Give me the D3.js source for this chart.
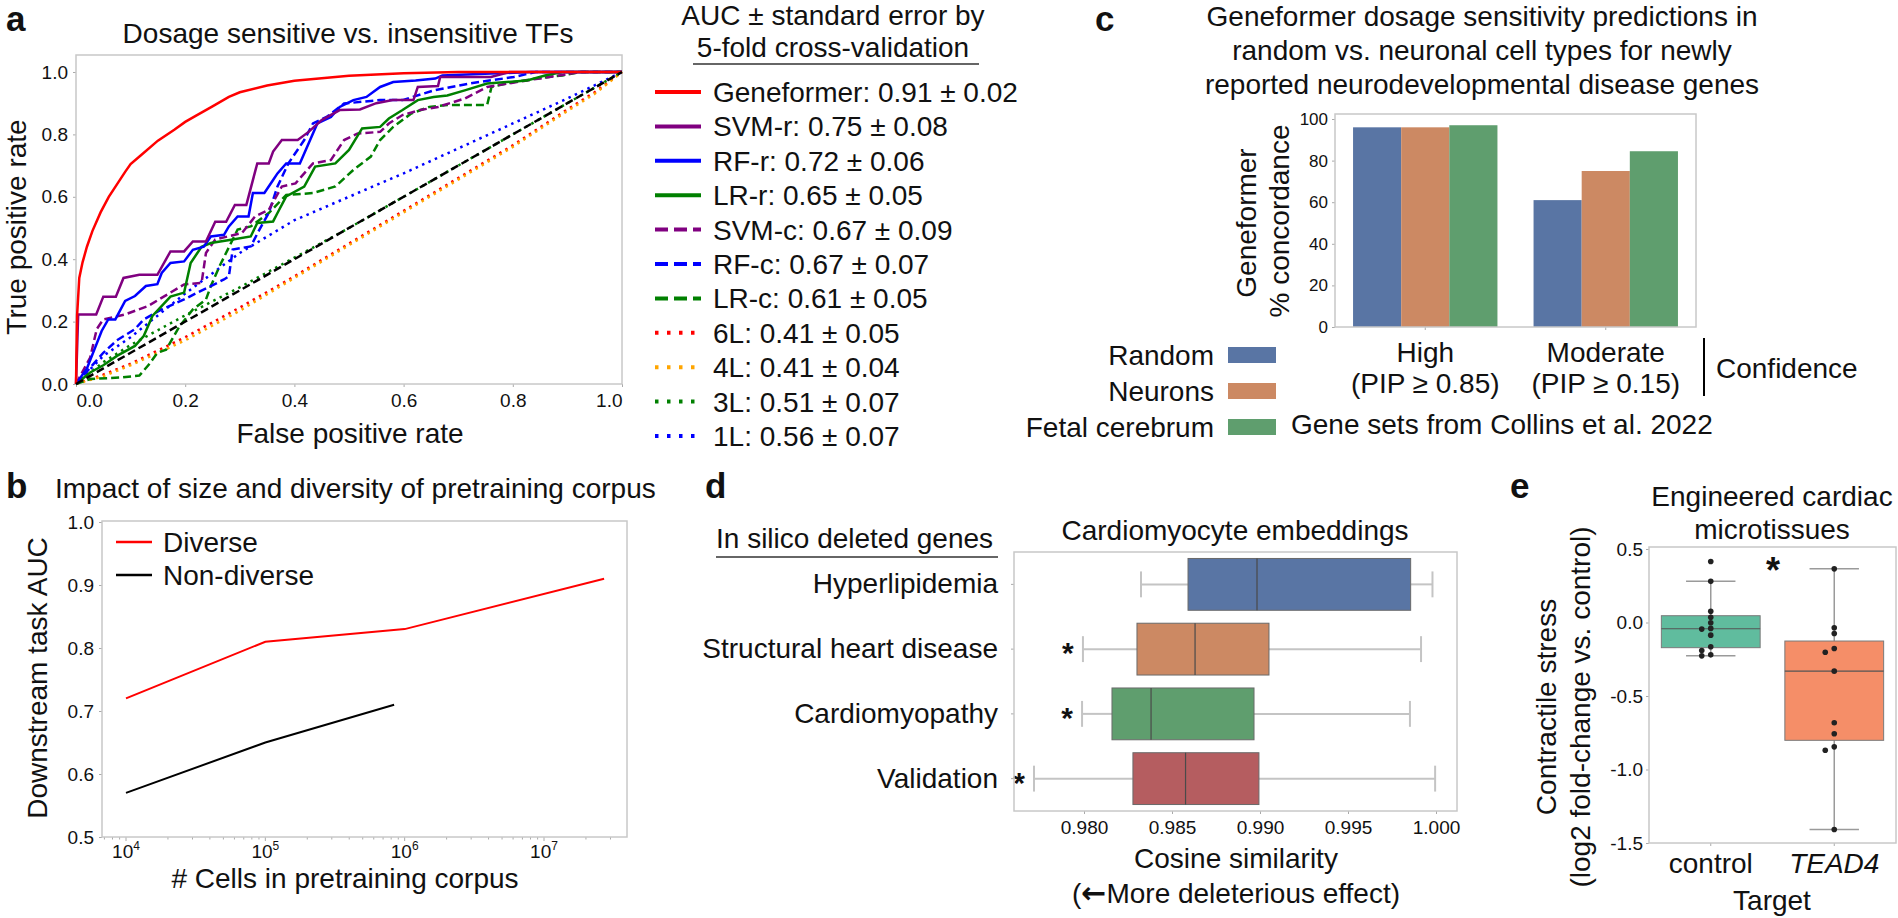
<!DOCTYPE html>
<html><head><meta charset="utf-8">
<script src="https://cdn.jsdelivr.net/npm/d3@7"></script>
<style>
body{margin:0;background:#fff}
svg text{font-family:"Liberation Sans",Arial,Helvetica,sans-serif;fill:#111}
</style>
</head><body>
<svg id="fig" width="1898" height="918"></svg>
<script>
// ---------------- DATA ----------------
// Panel a: ROC curves
const rocNames = ["Geneformer","SVM-r","RF-r","LR-r","SVM-c","RF-c","LR-c","6L","4L","3L","1L"];
const aucMean = [0.91,0.75,0.72,0.65,0.67,0.67,0.61,0.41,0.41,0.51,0.56];
const aucSE   = [0.02,0.08,0.06,0.05,0.09,0.07,0.05,0.05,0.04,0.07,0.07];
const rocGeneformer = [[0,0],[0.002,0.22],[0.006,0.34],[0.012,0.39],[0.02,0.44],[0.03,0.49],[0.045,0.55],[0.06,0.6],[0.075,0.64],[0.09,0.68],[0.1,0.705],[0.12,0.735],[0.15,0.78],[0.18,0.815],[0.2,0.84],[0.22,0.86],[0.25,0.89],[0.28,0.92],[0.3,0.935],[0.35,0.957],[0.4,0.972],[0.5,0.988],[0.6,0.996],[0.7,1],[1,1]];
const rocSVMr = [[0,0],[0.004,0.223],[0.037,0.223],[0.05,0.28],[0.073,0.28],[0.087,0.34],[0.116,0.35],[0.149,0.35],[0.173,0.425],[0.198,0.425],[0.214,0.457],[0.238,0.457],[0.255,0.52],[0.275,0.52],[0.291,0.574],[0.312,0.574],[0.332,0.707],[0.353,0.707],[0.361,0.745],[0.377,0.782],[0.406,0.782],[0.426,0.808],[0.45,0.846],[0.483,0.878],[0.52,0.88],[0.55,0.9],[0.58,0.91],[0.618,0.91],[0.626,0.952],[0.663,0.955],[0.667,0.984],[0.76,0.984],[0.794,1],[1,1]];
const rocRFr = [[0,0],[0.02,0.05],[0.047,0.17],[0.059,0.207],[0.072,0.207],[0.09,0.266],[0.108,0.282],[0.128,0.314],[0.149,0.32],[0.157,0.356],[0.173,0.388],[0.198,0.393],[0.214,0.43],[0.234,0.44],[0.247,0.473],[0.271,0.478],[0.28,0.505],[0.296,0.537],[0.316,0.537],[0.324,0.612],[0.345,0.612],[0.361,0.654],[0.369,0.675],[0.385,0.707],[0.41,0.707],[0.442,0.835],[0.467,0.856],[0.483,0.888],[0.508,0.91],[0.532,0.92],[0.557,0.952],[0.581,0.968],[0.622,0.973],[0.658,0.979],[0.671,0.989],[0.76,0.995],[0.834,1],[1,1]];
const rocLRr = [[0,0],[0.026,0.037],[0.05,0.06],[0.075,0.09],[0.108,0.122],[0.124,0.154],[0.14,0.218],[0.173,0.28],[0.198,0.293],[0.21,0.388],[0.23,0.44],[0.247,0.452],[0.287,0.463],[0.32,0.473],[0.332,0.516],[0.361,0.521],[0.369,0.548],[0.385,0.601],[0.418,0.633],[0.438,0.697],[0.475,0.707],[0.5,0.75],[0.524,0.819],[0.557,0.824],[0.573,0.851],[0.598,0.878],[0.626,0.91],[0.655,0.92],[0.68,0.925],[0.712,0.941],[0.753,0.963],[0.826,0.973],[0.859,0.989],[0.891,1],[1,1]];
const rocSVMc = [[0,0],[0.026,0.085],[0.038,0.176],[0.05,0.207],[0.09,0.223],[0.132,0.25],[0.173,0.293],[0.198,0.319],[0.23,0.324],[0.238,0.42],[0.255,0.463],[0.304,0.484],[0.328,0.537],[0.353,0.558],[0.377,0.633],[0.402,0.643],[0.434,0.707],[0.467,0.718],[0.491,0.782],[0.516,0.803],[0.557,0.808],[0.573,0.835],[0.598,0.862],[0.63,0.878],[0.663,0.888],[0.712,0.915],[0.753,0.952],[0.826,0.973],[0.867,0.984],[0.924,1],[1,1]];
const rocRFc = [[0,0],[0.025,0.05],[0.05,0.1],[0.075,0.14],[0.108,0.176],[0.124,0.207],[0.157,0.239],[0.198,0.271],[0.222,0.293],[0.247,0.314],[0.271,0.335],[0.28,0.345],[0.287,0.431],[0.32,0.441],[0.336,0.495],[0.353,0.548],[0.369,0.633],[0.389,0.707],[0.418,0.782],[0.434,0.835],[0.459,0.856],[0.491,0.899],[0.557,0.91],[0.598,0.91],[0.655,0.941],[0.72,0.963],[0.802,0.984],[0.842,1],[1,1]];
const rocLRc = [[0,0],[0.026,0.016],[0.083,0.021],[0.116,0.027],[0.132,0.059],[0.149,0.1],[0.165,0.11],[0.19,0.186],[0.214,0.239],[0.238,0.271],[0.247,0.314],[0.263,0.378],[0.296,0.495],[0.32,0.505],[0.353,0.548],[0.385,0.606],[0.434,0.612],[0.475,0.633],[0.508,0.686],[0.54,0.729],[0.557,0.782],[0.581,0.824],[0.614,0.867],[0.647,0.888],[0.68,0.894],[0.753,0.894],[0.761,0.952],[0.802,0.968],[0.842,0.979],[0.891,0.989],[0.924,1],[1,1]];
const roc6L = [[0,0],[0.05,0.03],[0.1,0.065],[0.2,0.15],[0.3,0.245],[0.4,0.345],[0.5,0.45],[0.6,0.555],[0.7,0.66],[0.8,0.765],[0.9,0.88],[0.95,0.935],[1,1]];
const roc4L = [[0,0],[0.05,0.025],[0.1,0.06],[0.2,0.14],[0.3,0.235],[0.4,0.34],[0.5,0.445],[0.6,0.55],[0.7,0.655],[0.8,0.76],[0.9,0.875],[0.95,0.93],[1,1]];
const roc3L = [[0,0],[0.05,0.07],[0.1,0.125],[0.2,0.22],[0.3,0.31],[0.4,0.405],[0.5,0.5],[0.6,0.6],[0.7,0.7],[0.8,0.8],[0.9,0.9],[1,1]];
const roc1L = [[0,0],[0.05,0.09],[0.1,0.15],[0.2,0.29],[0.3,0.42],[0.4,0.525],[0.5,0.6],[0.6,0.675],[0.7,0.755],[0.8,0.835],[0.9,0.915],[1,1]];
const rocChance = [[0,0],[1,1]];
const rocTicks = [0,0.2,0.4,0.6,0.8,1.0];

// Panel b
const diverseCells = [1e4,1e5,1e6,2.7e7];
const diverseAUC = [0.72,0.81,0.83,0.91];
const nonDiverseCells = [1e4,1e5,8.4e5];
const nonDiverseAUC = [0.57,0.65,0.71];
const corpusYTicks = [0.5,0.6,0.7,0.8,0.9,1.0];

// Panel c
const confidenceLevels = ["High","Moderate"];
const confidencePIP = ["(PIP \u2265 0.85)","(PIP \u2265 0.15)"];
const cellTypes = ["Random","Neurons","Fetal cerebrum"];
const concordanceHigh = [96,96,97];
const concordanceModerate = [61,75,84.5];
const concordanceTicks = [0,20,40,60,80,100];

// Panel d
const deletedSets = ["Hyperlipidemia","Structural heart disease","Cardiomyopathy","Validation"];
const cosWhiskLow = [0.98324,0.97994,0.97989,0.97716];
const cosQ1 = [0.98591,0.98301,0.98159,0.98278];
const cosMedian = [0.98983,0.98631,0.98381,0.98577];
const cosQ3 = [0.99856,0.99051,0.98966,0.98994];
const cosWhiskHigh = [0.99980,0.99915,0.99852,0.99995];
const cosSignificant = [false,true,true,true];
const cosTicks = [0.980,0.985,0.990,0.995,1.000];

// Panel e
const targets = ["control","TEAD4"];
const stressControl = [0.415,0.28,0.077,0.036,-0.002,-0.04,-0.045,-0.086,-0.165,-0.19,-0.22,-0.227];
const stressTEAD4 = [0.365,-0.036,-0.075,-0.177,-0.202,-0.331,-0.682,-0.757,-0.846,-0.869,-1.408];
const stressTicks = [0.5,0.0,-0.5,-1.0,-1.5];

// ---------------- STYLE ----------------
const FONT = '"Liberation Sans",Arial,Helvetica,sans-serif';
const FRAME = "#c8c8c8";
const TICKC = "#aaaaaa";
const rocColors = ["#ff0000","#800080","#0000ff","#008000","#800080","#0000ff","#008000","#ff0000","#ffa500","#008000","#0000ff"];
const rocKind = ["solid","solid","solid","solid","dash","dash","dash","dot","dot","dot","dot"];
const plotDash = {solid:null, dash:"8,4", dot:"2.5,4.5"};
const legDash = {solid:null, dash:"13,6", dot:"3.5,8.5"};
const deep = ["#5975A4","#CC8963","#5F9E6E","#B55D60"];
const set2 = ["#60BC9E","#F58E68"];

const svg = d3.select("#fig");

function frame(x0,y0,x1,y1){
  svg.append("rect").attr("x",x0).attr("y",y0).attr("width",x1-x0).attr("height",y1-y0)
    .attr("fill","none").attr("stroke",FRAME).attr("stroke-width",1.5);
}
function styleAxis(g, fs){
  g.attr("font-family",FONT).attr("font-size",fs);
  g.select(".domain").remove();
  g.selectAll(".tick line").attr("stroke",TICKC);
  g.selectAll(".tick text").attr("fill","#111");
}
function txt(x,y,s,o){
  o = o||{};
  const t = svg.append("text").attr("x",x).attr("y",y).text(s)
    .attr("font-size",o.fs||28).attr("text-anchor",o.anchor||"start");
  if(o.bold) t.attr("font-weight","bold");
  if(o.italic) t.attr("font-style","italic");
  if(o.rot) t.attr("transform",`rotate(-90,${x},${y})`);
  return t;
}
function panelLabel(x,y,s){ txt(x,y,s,{fs:35,bold:true}); }

// ================= PANEL A =================
panelLabel(6,31,"a");
const xA = d3.scaleLinear([0,1],[76,622]);
const yA = d3.scaleLinear([0,1],[384,72]);
txt(348,43,"Dosage sensitive vs. insensitive TFs",{anchor:"middle"});
const gxA = svg.append("g").attr("transform","translate(0,384)")
  .call(d3.axisBottom(xA).tickValues(rocTicks).tickFormat(d3.format(".1f")).tickSize(3).tickPadding(7));
styleAxis(gxA,19);
gxA.selectAll(".tick text").attr("text-anchor",(d,i)=> i===0?"start":(i===rocTicks.length-1?"end":"middle"));
const gyA = svg.append("g").attr("transform","translate(76,0)")
  .call(d3.axisLeft(yA).tickValues(rocTicks).tickFormat(d3.format(".1f")).tickSize(3).tickPadding(5));
styleAxis(gyA,19);
frame(76,55,622,384);
txt(350,443,"False positive rate",{anchor:"middle"});
txt(26,227,"True positive rate",{anchor:"middle",rot:true});

const rocData = [rocGeneformer,rocSVMr,rocRFr,rocLRr,rocSVMc,rocRFc,rocLRc,roc6L,roc4L,roc3L,roc1L];
const lineA = d3.line().x(d=>xA(d[0])).y(d=>yA(d[1]));
const drawOrder = [7,8,9,10,6,5,4,3,2,1,0];
drawOrder.forEach(i=>{
  svg.append("path").attr("d",lineA(rocData[i])).attr("fill","none")
    .attr("stroke",rocColors[i]).attr("stroke-width",2.5)
    .attr("stroke-dasharray",plotDash[rocKind[i]]);
});
svg.append("path").attr("d",lineA(rocChance)).attr("fill","none")
  .attr("stroke","#000").attr("stroke-width",2.5).attr("stroke-dasharray","8,4");

// legend a
txt(833,25,"AUC \u00b1 standard error by",{anchor:"middle"});
txt(833,57,"5-fold cross-validation",{anchor:"middle"});
svg.append("line").attr("x1",693).attr("x2",979).attr("y1",64).attr("y2",64).attr("stroke","#333").attr("stroke-width",1.5);
const legY = d3.scaleLinear([0,10],[92,436]);
rocNames.forEach((n,i)=>{
  const y = legY(i);
  svg.append("line").attr("x1",655).attr("x2",701).attr("y1",y).attr("y2",y)
    .attr("stroke",rocColors[i]).attr("stroke-width",4).attr("stroke-dasharray",legDash[rocKind[i]]);
  txt(713,y+10,`${n}: ${aucMean[i].toFixed(2)} \u00b1 ${aucSE[i].toFixed(2)}`);
});

// ================= PANEL B =================
panelLabel(6,498,"b");
txt(55,498,"Impact of size and diversity of pretraining corpus");
const xB = d3.scaleLog([1e4,1e7],[126,544]);
const yB = d3.scaleLinear([0.5,1.0],[837,522]);
const gyB = svg.append("g").attr("transform","translate(102,0)")
  .call(d3.axisLeft(yB).tickValues(corpusYTicks).tickFormat(d3.format(".1f")).tickSize(3).tickPadding(5));
styleAxis(gyB,19);
const minorB = xB.copy().domain([6.3e3,4e7]).ticks().filter(v=>xB(v)>102 && xB(v)<627);
svg.append("g").selectAll("line").data(minorB).join("line")
  .attr("x1",d=>xB(d)).attr("x2",d=>xB(d)).attr("y1",837).attr("y2",d=> Math.abs(Math.log10(d)%1)<1e-9?841:839.5)
  .attr("stroke",TICKC);
const majorB = [1e4,1e5,1e6,1e7];
majorB.forEach(v=>{
  const t = svg.append("text").attr("x",xB(v)).attr("y",858).attr("text-anchor","middle").attr("font-size",19);
  t.append("tspan").text("10");
  t.append("tspan").text(Math.round(Math.log10(v))).attr("font-size",12).attr("dy",-8);
});
frame(102,521,627,837);
const lineB = d3.line().x(d=>xB(d[0])).y(d=>yB(d[1]));
svg.append("path").attr("d",lineB(diverseCells.map((c,i)=>[c,diverseAUC[i]]))).attr("fill","none").attr("stroke","#ff0000").attr("stroke-width",2);
svg.append("path").attr("d",lineB(nonDiverseCells.map((c,i)=>[c,nonDiverseAUC[i]]))).attr("fill","none").attr("stroke","#000").attr("stroke-width",2);
svg.append("line").attr("x1",116).attr("x2",152).attr("y1",542).attr("y2",542).attr("stroke","#ff0000").attr("stroke-width",2.5);
svg.append("line").attr("x1",116).attr("x2",152).attr("y1",575).attr("y2",575).attr("stroke","#000").attr("stroke-width",2.5);
txt(163,552,"Diverse");
txt(163,585,"Non-diverse");
txt(345,888,"# Cells in pretraining corpus",{anchor:"middle"});
txt(47,678,"Downstream task AUC",{anchor:"middle",rot:true});

// ================= PANEL C =================
panelLabel(1095,31,"c");
txt(1482,26,"Geneformer dosage sensitivity predictions in",{anchor:"middle"});
txt(1482,60,"random vs. neuronal cell types for newly",{anchor:"middle"});
txt(1482,94,"reported neurodevelopmental disease genes",{anchor:"middle"});
const xC = d3.scaleBand(confidenceLevels,[1335,1696]).paddingInner(0.2).paddingOuter(0.1);
const xCsub = d3.scaleBand(cellTypes,[0,xC.bandwidth()]);
const yC = d3.scaleLinear([0,100],[327,119]);
const gyC = svg.append("g").attr("transform","translate(1335,0)")
  .call(d3.axisLeft(yC).tickValues(concordanceTicks).tickSize(3).tickPadding(4));
styleAxis(gyC,17);
const concData = [concordanceHigh,concordanceModerate];
confidenceLevels.forEach((lv,gi)=>{
  cellTypes.forEach((ct,ci)=>{
    const v = concData[gi][ci];
    svg.append("rect").attr("x",xC(lv)+xCsub(ct)).attr("width",xCsub.bandwidth())
      .attr("y",yC(v)).attr("height",yC(0)-yC(v)).attr("fill",deep[ci]);
  });
  const cx = xC(lv)+xC.bandwidth()/2;
  svg.append("line").attr("x1",cx).attr("x2",cx).attr("y1",327).attr("y2",330).attr("stroke",TICKC);
  txt(cx,362,lv,{anchor:"middle"});
  txt(cx,393,confidencePIP[gi],{anchor:"middle"});
});
frame(1335,114,1696,327);
svg.append("line").attr("x1",1704).attr("x2",1704).attr("y1",338).attr("y2",396).attr("stroke","#000").attr("stroke-width",2);
txt(1716,378,"Confidence");
txt(1256,223,"Geneformer",{anchor:"middle",rot:true});
txt(1289,221,"% concordance",{anchor:"middle",rot:true});
cellTypes.forEach((ct,ci)=>{
  const cy = d3.scaleLinear([0,2],[355,427])(ci);
  txt(1214,cy+10,ct,{anchor:"end"});
  svg.append("rect").attr("x",1228).attr("y",cy-8).attr("width",48).attr("height",16).attr("fill",deep[ci]);
});
txt(1291,434,"Gene sets from Collins et al. 2022");

// ================= PANEL D =================
panelLabel(705,498,"d");
txt(716,548,"In silico deleted genes");
svg.append("line").attr("x1",716).attr("x2",998).attr("y1",557).attr("y2",557).attr("stroke","#333").attr("stroke-width",1.5);
txt(1235,540,"Cardiomyocyte embeddings",{anchor:"middle"});
const xD = d3.scaleLinear([0.98,1.0],[1084,1436]);
const yD = d3.scaleBand(deletedSets,[552,811]).paddingInner(0.2).paddingOuter(0.1);
const gxD = svg.append("g").attr("transform","translate(0,811)")
  .call(d3.axisBottom(xD).tickValues(cosTicks).tickFormat(d3.format(".3f")).tickSize(3).tickPadding(7));
styleAxis(gxD,19);
const gyD = svg.append("g").attr("transform","translate(1014,0)")
  .call(d3.axisLeft(yD).tickSize(3).tickPadding(13));
styleAxis(gyD,28);
deletedSets.forEach((s,i)=>{
  const y0 = yD(s), h = yD.bandwidth(), cy = y0+h/2;
  const W = "#c4c4c4";
  svg.append("line").attr("x1",xD(cosWhiskLow[i])).attr("x2",xD(cosQ1[i])).attr("y1",cy).attr("y2",cy).attr("stroke",W).attr("stroke-width",2);
  svg.append("line").attr("x1",xD(cosQ3[i])).attr("x2",xD(cosWhiskHigh[i])).attr("y1",cy).attr("y2",cy).attr("stroke",W).attr("stroke-width",2);
  [cosWhiskLow[i],cosWhiskHigh[i]].forEach(v=>{
    svg.append("line").attr("x1",xD(v)).attr("x2",xD(v)).attr("y1",cy-h/4).attr("y2",cy+h/4).attr("stroke",W).attr("stroke-width",2);
  });
  svg.append("rect").attr("x",xD(cosQ1[i])).attr("width",xD(cosQ3[i])-xD(cosQ1[i]))
    .attr("y",y0).attr("height",h).attr("fill",deep[i]).attr("stroke","#6a6a6a").attr("stroke-width",1);
  svg.append("line").attr("x1",xD(cosMedian[i])).attr("x2",xD(cosMedian[i])).attr("y1",y0).attr("y2",y0+h).attr("stroke","#4a4a4a").attr("stroke-width",1.2);
  if(cosSignificant[i]) txt(xD(cosWhiskLow[i])-15,cy+14,"*",{anchor:"middle",fs:30,bold:true});
});
frame(1014,552,1457,811);
txt(1236,868,"Cosine similarity",{anchor:"middle"});
{
  const t = svg.append("text").attr("x",1236).attr("y",903).attr("text-anchor","middle").attr("font-size",28);
  t.append("tspan").text("(");
  t.append("tspan").text("\u2190").attr("font-weight","bold").attr("font-family","DejaVu Sans").attr("font-size",30);
  t.append("tspan").text("More deleterious effect)");
}

// ================= PANEL E =================
panelLabel(1510,498,"e");
txt(1772,506,"Engineered cardiac",{anchor:"middle"});
txt(1772,539,"microtissues",{anchor:"middle"});
const xE = d3.scaleBand(targets,[1649,1896]).paddingInner(0.2).paddingOuter(0.1);
const yE = d3.scaleLinear([-1.5,0.5],[843,549]);
const gyE = svg.append("g").attr("transform","translate(1649,0)")
  .call(d3.axisLeft(yE).tickValues(stressTicks).tickFormat(d3.format(".1f")).tickSize(3).tickPadding(3));
styleAxis(gyE,19);
gyE.selectAll(".tick text").text(d=>d3.format(".1f")(d).replace("\u2212","-"));
const gxE = svg.append("g").attr("transform","translate(0,843)")
  .call(d3.axisBottom(xE).tickSize(3).tickPadding(7));
styleAxis(gxE,28);
gxE.selectAll(".tick text").attr("font-style",d=>d==="TEAD4"?"italic":"normal");
const stressData = [stressControl,stressTEAD4];
targets.forEach((t,i)=>{
  const vals = stressData[i].slice().sort(d3.ascending);
  const q1 = d3.quantile(vals,0.25), q2 = d3.quantile(vals,0.5), q3 = d3.quantile(vals,0.75);
  const iqr = q3-q1;
  const lo = d3.min(vals.filter(v=>v>=q1-1.5*iqr)), hi = d3.max(vals.filter(v=>v<=q3+1.5*iqr));
  const x0 = xE(t), w = xE.bandwidth(), cx = x0+w/2;
  const W = "#9a9a9a";
  svg.append("line").attr("x1",cx).attr("x2",cx).attr("y1",yE(hi)).attr("y2",yE(lo)).attr("stroke",W).attr("stroke-width",1.5);
  [lo,hi].forEach(v=>svg.append("line").attr("x1",cx-w/4).attr("x2",cx+w/4).attr("y1",yE(v)).attr("y2",yE(v)).attr("stroke",W).attr("stroke-width",1.5));
  svg.append("rect").attr("x",x0).attr("width",w).attr("y",yE(q3)).attr("height",yE(q1)-yE(q3))
    .attr("fill",set2[i]).attr("stroke","#7a7a7a").attr("stroke-width",1);
  svg.append("line").attr("x1",x0).attr("x2",x0+w).attr("y1",yE(q2)).attr("y2",yE(q2)).attr("stroke","#555").attr("stroke-width",1.2);
  const placed = [];
  stressData[i].forEach(v=>{
    const py = yE(v);
    let off = 0;
    const cands = [0,-4.5,4.5,-9,9];
    for(const c of cands){
      if(!placed.some(p=>Math.abs(p[0]-(cx+c))<5 && Math.abs(p[1]-py)<5)){ off=c; break; }
    }
    placed.push([cx+off,py]);
  });
  svg.append("g").selectAll("circle").data(placed).join("circle")
    .attr("cx",d=>d[0]).attr("cy",d=>d[1]).attr("r",2.8).attr("fill","#222");
});
frame(1649,547,1896,843);
txt(1773,583,"*",{anchor:"middle",fs:36,bold:true});
txt(1772,910,"Target",{anchor:"middle"});
txt(1556,707,"Contractile stress",{anchor:"middle",rot:true});
txt(1590,707,"(log2 fold-change vs. control)",{anchor:"middle",rot:true});
</script>
</body></html>
